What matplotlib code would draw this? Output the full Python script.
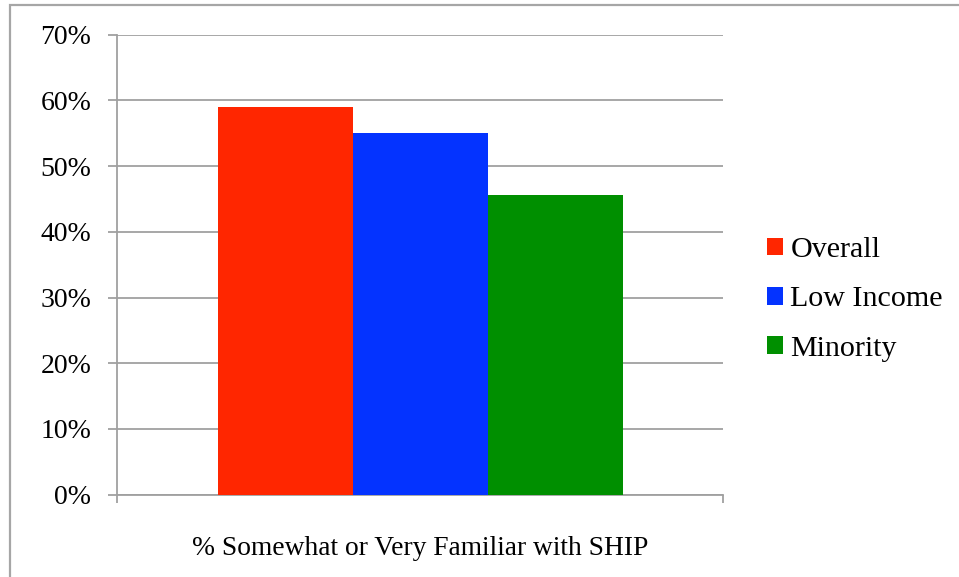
import matplotlib
matplotlib.use("Agg")
import matplotlib.pyplot as plt
from matplotlib.patches import Rectangle
import numpy as np

# Survey results
category = "% Somewhat or Very Familiar with SHIP"
groups = ["Overall", "Low Income", "Minority"]
values = [0.59, 0.55, 0.456]
colors = ["#ff2600", "#0433ff", "#008f00"]
y_ticks = [0.0, 0.1, 0.2, 0.3, 0.4, 0.5, 0.6, 0.7]

plt.rcParams["font.family"] = ["Liberation Serif", "DejaVu Serif"]

W, H, DPI = 959, 577, 100
fig = plt.figure(figsize=(W / DPI, H / DPI), dpi=DPI)

# outer chart border (cut off on the right and bottom)
fig.patches.append(Rectangle((10 / W, -0.2), 1.2, 1.2 - 5 / H,
                             transform=fig.transFigure, fill=False,
                             edgecolor="#a6a6a6", linewidth=1.6))

ax = fig.add_axes([117 / W, 1 - 494.6 / H, (723 - 117) / W, (494.6 - 34.7) / H])

bar_w = 135 / 606
offsets = (np.arange(len(groups)) - 1) * bar_w
for off, v, c, g in zip(offsets, values, colors, groups):
    ax.bar(off, v, width=bar_w, color=c, label=g, zorder=3)

ax.set_xlim(-0.5, 0.5)
ax.set_ylim(0, 0.7)
ax.set_yticks(y_ticks)
ax.set_yticklabels([f"{int(round(t * 100))}%" for t in y_ticks], fontsize=20)
ax.set_xticks([-0.5, 0.5])
ax.set_xticklabels(["", ""])
ax.tick_params(axis="y", length=6.5, width=1.3, color="#a0a0a0", pad=12)
ax.tick_params(axis="x", length=6, width=1.3, color="#a0a0a0")
ax.yaxis.grid(True, color="#a0a0a0", linewidth=1.3, zorder=0)
ax.set_axisbelow(True)
for s in ["top", "right"]:
    ax.spines[s].set_visible(False)
for s in ["left", "bottom"]:
    ax.spines[s].set_color("#a0a0a0")
    ax.spines[s].set_linewidth(1.3)

ax.set_xlabel(category, fontsize=19.8, labelpad=20)

leg = fig.legend(loc="upper left", bbox_to_anchor=(767 / W, 1 - 237 / H),
                 frameon=False, fontsize=21.6, handlelength=0.53,
                 handleheight=0.53, handletextpad=0.25, labelspacing=0.78,
                 borderpad=0, borderaxespad=0)

fig.savefig("out.png", dpi=DPI)
